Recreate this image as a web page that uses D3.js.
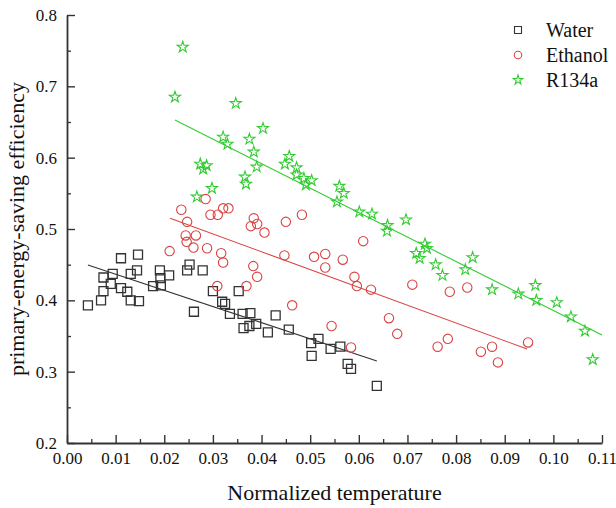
<!DOCTYPE html>
<html>
<head>
<meta charset="utf-8">
<script src="https://cdn.jsdelivr.net/npm/d3@7"></script>
<style>
  body { margin: 0; background: #fff; }
  svg { display: block; font-family: "Liberation Serif", "Times New Roman", serif; }
</style>
</head>
<body>
<svg id="chart"></svg>
<script>
// values

var waterX = [0.0043,0.0070,0.0075,0.0075,0.0090,0.0094,0.0111,0.0146,0.0111,0.0124,0.0131,0.0148,0.0131,0.0144,0.0191,0.0192,0.0210,0.0177,0.0193,0.0252,0.0247,0.0279,0.0261,0.0300,0.0353,0.0319,0.0325,0.0335,0.0361,0.0377,0.0363,0.0375,0.0389,0.0429,0.0413,0.0456,0.0502,0.0517,0.0503,0.0542,0.0562,0.0577,0.0584,0.0637];
var waterY = [0.393,0.400,0.413,0.432,0.423,0.437,0.459,0.464,0.417,0.412,0.400,0.399,0.437,0.442,0.442,0.431,0.435,0.420,0.421,0.450,0.442,0.442,0.384,0.413,0.413,0.398,0.395,0.381,0.381,0.382,0.361,0.364,0.367,0.379,0.355,0.359,0.340,0.346,0.322,0.332,0.335,0.311,0.304,0.280];

var ethanolX = [0.0211,0.0235,0.0285,0.0247,0.0295,0.0310,0.0321,0.0332,0.0384,0.0378,0.0391,0.0406,0.0450,0.0483,0.0244,0.0246,0.0265,0.0260,0.0288,0.0317,0.0321,0.0383,0.0391,0.0447,0.0508,0.0531,0.0567,0.0531,0.0591,0.0596,0.0309,0.0369,0.0463,0.0544,0.0584,0.0609,0.0625,0.0710,0.0787,0.0823,0.0662,0.0679,0.0762,0.0783,0.0851,0.0874,0.0886,0.0948];
var ethanolY = [0.469,0.527,0.542,0.510,0.520,0.520,0.529,0.529,0.515,0.504,0.507,0.495,0.510,0.520,0.491,0.482,0.491,0.474,0.473,0.466,0.453,0.448,0.433,0.463,0.461,0.465,0.457,0.446,0.433,0.420,0.420,0.420,0.393,0.364,0.334,0.483,0.415,0.422,0.412,0.418,0.375,0.353,0.335,0.346,0.328,0.335,0.313,0.341];

var r134aX = [0.0238,0.0222,0.0347,0.0403,0.0321,0.0330,0.0375,0.0384,0.0390,0.0274,0.0287,0.0280,0.0366,0.0368,0.0298,0.0267,0.0457,0.0448,0.0472,0.0472,0.0487,0.0503,0.0491,0.0560,0.0569,0.0555,0.0601,0.0627,0.0697,0.0659,0.0658,0.0736,0.0740,0.0718,0.0725,0.0834,0.0758,0.0772,0.0819,0.0874,0.0928,0.0963,0.0965,0.1007,0.1036,0.1065,0.1081];
var r134aY = [0.755,0.685,0.676,0.641,0.629,0.619,0.626,0.608,0.587,0.591,0.589,0.584,0.573,0.563,0.557,0.545,0.602,0.591,0.586,0.576,0.571,0.568,0.562,0.560,0.550,0.538,0.524,0.521,0.513,0.505,0.497,0.479,0.473,0.466,0.459,0.460,0.450,0.435,0.443,0.415,0.409,0.421,0.400,0.397,0.377,0.357,0.317];

// fitted lines: [x start, x end], [y start, y end]
var waterFitX = [0.0043, 0.0637];
var waterFitY = [0.4495, 0.3150];
var ethanolFitX = [0.0212, 0.0946];
var ethanolFitY = [0.5150, 0.3318];
var r134aFitX = [0.0222, 0.1100];
var r134aFitY = [0.6528, 0.3514];

var xTicks = [0,0.01,0.02,0.03,0.04,0.05,0.06,0.07,0.08,0.09,0.10,0.11];
var yTicks = [0.2,0.3,0.4,0.5,0.6,0.7,0.8];

var seriesNames = ["Water","Ethanol","R134a"];
var seriesColors = ["#333333","#d94444","#33cc33"];

var serif = "'Liberation Serif', 'Times New Roman', serif";

var width = 616, height = 508;
var margin = {top: 15, right: 14, bottom: 65, left: 67};

var svg = d3.select("#chart").attr("width", width).attr("height", height);

var x = d3.scaleLinear().domain([0, 0.11]).range([margin.left, width - margin.right]);
var y = d3.scaleLinear().domain([0.2, 0.8]).range([height - margin.bottom, margin.top]);

// minor ticks
var xMinor = xTicks.slice(0, -1).map(function(d){ return d + 0.005; });
var yMinor = yTicks.slice(0, -1).map(function(d){ return d + 0.05; });

svg.append("g")
    .attr("transform", "translate(0," + (height - margin.bottom) + ")")
    .call(d3.axisBottom(x).tickValues(xMinor).tickSize(-4).tickFormat(""))
    .call(function(g){ g.select(".domain").remove(); })
    .selectAll("line").attr("stroke", "#333").attr("stroke-width", 1.3);

svg.append("g")
    .attr("transform", "translate(" + margin.left + ",0)")
    .call(d3.axisLeft(y).tickValues(yMinor).tickSize(-4).tickFormat(""))
    .call(function(g){ g.select(".domain").remove(); })
    .selectAll("line").attr("stroke", "#333").attr("stroke-width", 1.3);

// main axes
var xAxis = svg.append("g")
    .attr("transform", "translate(0," + (height - margin.bottom) + ")")
    .call(d3.axisBottom(x).tickValues(xTicks).tickSize(-8).tickSizeOuter(0).tickPadding(9).tickFormat(d3.format(".2f")));

var yAxis = svg.append("g")
    .attr("transform", "translate(" + margin.left + ",0)")
    .call(d3.axisLeft(y).tickValues(yTicks).tickSize(-8).tickSizeOuter(0).tickPadding(10).tickFormat(d3.format(".1f")));

[xAxis, yAxis].forEach(function(g){
  g.attr("font-family", serif).attr("font-size", 17);
  g.select(".domain").attr("stroke", "#333").attr("stroke-width", 1.8);
  g.selectAll(".tick line").attr("stroke", "#333").attr("stroke-width", 1.4);
  g.selectAll(".tick text").attr("fill", "#111");
});

// axis titles
svg.append("text")
    .attr("x", (margin.left + width - margin.right) / 2)
    .attr("y", 500)
    .attr("text-anchor", "middle")
    .style("font-size", "22px")
    .attr("fill", "#111")
    .text("Normalized temperature");

svg.append("text")
    .attr("transform", "rotate(-90)")
    .attr("x", -(margin.top + height - margin.bottom) / 2)
    .attr("y", 24)
    .attr("text-anchor", "middle")
    .style("font-size", "22px")
    .attr("fill", "#111")
    .text("primary-energy-saving efficiency");

// fit lines
var line = d3.line().x(function(d){ return x(d[0]); }).y(function(d){ return y(d[1]); });
var fits = [[waterFitX, waterFitY], [ethanolFitX, ethanolFitY], [r134aFitX, r134aFitY]];
fits.forEach(function(f, i){
  svg.append("path")
      .datum(d3.zip(f[0], f[1]))
      .attr("d", line)
      .attr("fill", "none")
      .attr("stroke", seriesColors[i])
      .attr("stroke-width", 1.1);
});

// markers
var squareSym = d3.symbol().type(d3.symbolSquare).size(81);
var starSym = d3.symbol().type(d3.symbolStar).size(38);

svg.append("g").selectAll("path")
  .data(d3.zip(waterX, waterY))
  .enter().append("path")
    .attr("transform", function(d){ return "translate(" + x(d[0]) + "," + y(d[1]) + ")"; })
    .attr("d", squareSym)
    .attr("fill", "none")
    .attr("stroke", seriesColors[0])
    .attr("stroke-width", 1.3);

svg.append("g").selectAll("circle")
  .data(d3.zip(ethanolX, ethanolY))
  .enter().append("circle")
    .attr("cx", function(d){ return x(d[0]); })
    .attr("cy", function(d){ return y(d[1]); })
    .attr("r", 4.7)
    .attr("fill", "none")
    .attr("stroke", seriesColors[1])
    .attr("stroke-width", 1.1);

svg.append("g").selectAll("path")
  .data(d3.zip(r134aX, r134aY))
  .enter().append("path")
    .attr("transform", function(d){ return "translate(" + x(d[0]) + "," + y(d[1]) + ")"; })
    .attr("d", starSym)
    .attr("fill", "none")
    .attr("stroke", seriesColors[2])
    .attr("stroke-width", 1.1);

// legend
var legend = svg.append("g").attr("transform", "translate(518,30)");
var legendSyms = [
  d3.symbol().type(d3.symbolSquare).size(49),
  d3.symbol().type(d3.symbolCircle).size(44),
  d3.symbol().type(d3.symbolStar).size(28)
];
seriesNames.forEach(function(name, i){
  var row = legend.append("g").attr("transform", "translate(0," + (i * 25) + ")");
  row.append("path")
      .attr("d", legendSyms[i])
      .attr("fill", "none")
      .attr("stroke", seriesColors[i])
      .attr("stroke-width", 1.1);
  row.append("text")
      .attr("x", 28)
      .attr("y", 6.5)
      .style("font-size", "20px")
      .attr("fill", "#111")
      .text(name);
});
</script>
</body>
</html>
